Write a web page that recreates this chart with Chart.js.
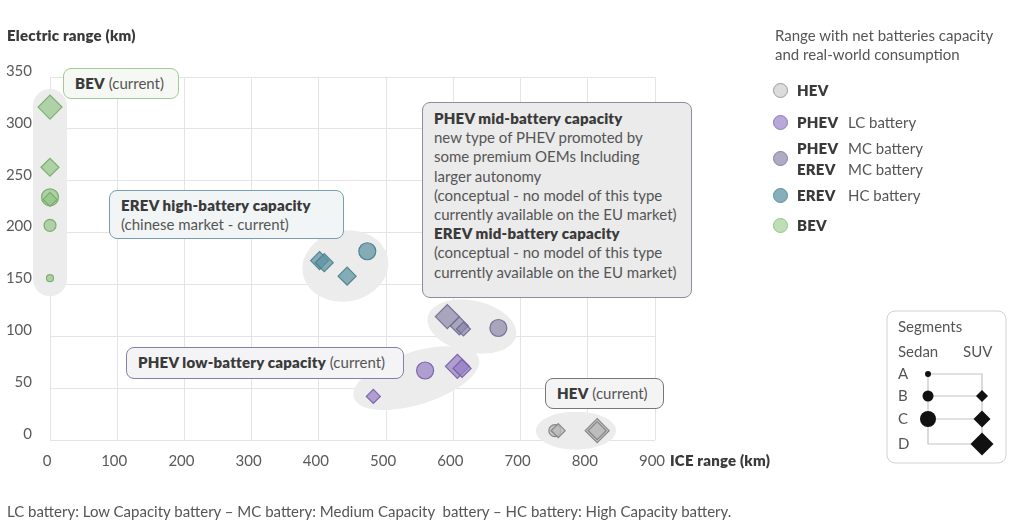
<!DOCTYPE html>
<html>
<head>
<meta charset="utf-8">
<script src="https://cdn.jsdelivr.net/npm/chart.js@4.4.1/dist/chart.umd.min.js"></script>
<style>
    body { margin: 0; background: #ffffff; font-family: Lato, "Open Sans", sans-serif; color: #555; }
    #wrap { position: relative; width: 1024px; height: 530px; overflow: hidden; }
    #chartBox { position: absolute; left: 0; top: 0; width: 1024px; height: 530px; }
    .txt { position: absolute; font-size: 15px; line-height: 19px; white-space: nowrap; }
    .b { font-weight: 800; color: #3a3a3a; letter-spacing: 0.2px; }
    .box { position: absolute; box-sizing: border-box; border: 1.3px solid #888; border-radius: 8px;
           padding: 0 11px; font-size: 15px; line-height: 19.2px; white-space: nowrap; color: #555; }
    .one { display: flex; align-items: center; }
    .dot { position: absolute; width: 15px; height: 15px; border-radius: 50%; box-sizing: border-box; border: 1.5px solid; }
</style>
</head>
<body>
<div id="wrap">
    <div id="chartBox"><canvas id="myChart"></canvas></div>

    <!-- axis titles -->
    <div class="txt b" style="left:7px; top:26px;">Electric range (km)</div>
    <div class="txt b" style="left:670px; top:451px;">ICE range (km)</div>

    <!-- callouts -->
    <div class="box one" style="left:63px; top:68px; width:116px; height:31px; border-color:#a3cb98; background:#f5f8f3;">
        <span class="b">BEV</span>&nbsp;(current)</div>
    <div class="box" style="left:109px; top:190px; width:235px; height:49px; border-color:#7a9db2; background:#f2f5f6; padding-top:5px;">
        <span class="b">EREV high-battery capacity</span><br>(chinese market - current)</div>
    <div class="box" style="left:422px; top:102px; width:270px; height:196px; border-color:#8d8b9c; background:#ebebeb; padding-top:6px;">
        <span class="b">PHEV mid-battery capacity</span><br>new type of PHEV promoted by<br>some premium OEMs Including<br>larger autonomy<br>(conceptual - no model of this type<br>currently available on the EU market)<br><span class="b">EREV mid-battery capacity</span><br>(conceptual - no model of this type<br>currently available on the EU market)</div>
    <div class="box one" style="left:126px; top:347px; width:278px; height:32px; border-color:#877ea8; background:#f4f4f6;">
        <span class="b">PHEV low-battery capacity</span>&nbsp;(current)</div>
    <div class="box one" style="left:545px; top:378px; width:119px; height:31px; border-color:#777; background:#f4f4f4;">
        <span class="b">HEV</span>&nbsp;(current)</div>

    <!-- legend -->
    <div class="txt" style="left:775px; top:26px;">Range with net batteries capacity<br>and real-world consumption</div>
    <div class="dot" style="left:773px; top:83px; background:#dcdcdc; border-color:#9a9a9a;"></div>
    <div class="txt b" style="left:797px; top:81px;">HEV</div>
    <div class="dot" style="left:773px; top:115px; background:#b8a8d9; border-color:#8b79b8;"></div>
    <div class="txt b" style="left:797px; top:113px;">PHEV</div>
    <div class="txt" style="left:848px; top:113px;">LC battery</div>
    <div class="dot" style="left:773px; top:151px; background:#aeabc4; border-color:#85819f;"></div>
    <div class="txt b" style="left:797px; top:138px; line-height:21px;">PHEV<br>EREV</div>
    <div class="txt" style="left:848px; top:138px; line-height:21px;">MC battery<br>MC battery</div>
    <div class="dot" style="left:773px; top:188px; background:#86aebb; border-color:#5f8e9b;"></div>
    <div class="txt b" style="left:797px; top:186px;">EREV</div>
    <div class="txt" style="left:848px; top:186px;">HC battery</div>
    <div class="dot" style="left:773px; top:218px; background:#bfdeb6; border-color:#93c289;"></div>
    <div class="txt b" style="left:797px; top:216px;">BEV</div>

    <!-- segments key -->
    <svg width="122" height="156" style="position:absolute; left:886px; top:310px;" font-family="Lato, sans-serif" font-size="15" fill="#555">
        <rect x="1" y="1" width="119" height="152" rx="8" fill="#fff" stroke="#d2d2d2"/>
        <text x="12" y="22">Segments</text>
        <text x="12" y="47">Sedan</text>
        <text x="77" y="47">SUV</text>
        <text x="12" y="69">A</text>
        <text x="12" y="91">B</text>
        <text x="12" y="114">C</text>
        <text x="12" y="139">D</text>
        <g stroke="#c4c4c4" stroke-width="1.2" fill="none">
            <polyline points="42,64 96,64 96,134"/>
            <polyline points="42,64 42,134 96,134"/>
            <line x1="42" y1="86" x2="96" y2="86"/>
            <line x1="42" y1="109" x2="96" y2="109"/>
        </g>
        <g fill="#111">
            <circle cx="42" cy="64" r="3"/>
            <circle cx="42" cy="86" r="5.5"/>
            <circle cx="42" cy="109" r="8"/>
            <polygon points="96,80 102,86 96,92 90,86"/>
            <polygon points="96,100.5 104.5,109 96,117.5 87.5,109"/>
            <polygon points="96,122.5 107.5,134 96,145.5 84.5,134"/>
        </g>
    </svg>

    <div class="txt" style="left:7px; top:502px;">LC battery: Low Capacity battery – MC battery: Medium Capacity&nbsp; battery – HC battery: High Capacity battery.</div>
</div>

<script>
// values: ICE range (x), electric range (y), segment of each marker
const hevX = [751, 756, 814, 814];
const hevY = [9, 9, 9, 9];
const hevSeg = ['sedan-B', 'suv-B', 'suv-D', 'suv-C'];

const phevLcX = [481, 558, 606, 613];
const phevLcY = [42, 67, 71, 69];
const phevLcSeg = ['suv-B', 'sedan-C', 'suv-D', 'suv-C'];

const mcX = [591, 609, 615, 667];
const mcY = [119, 110, 107, 108];
const mcSeg = ['suv-D', 'suv-C', 'suv-B', 'sedan-C'];

const erevHcX = [401, 408, 442, 472];
const erevHcY = [173, 171, 158, 182];
const erevHcSeg = ['suv-C', 'suv-C', 'suv-C', 'sedan-C'];

const bevX = [0, 0, 0, 0, 0, 0];
const bevY = [321, 263, 234, 232, 207, 156];
const bevSeg = ['suv-D', 'suv-C', 'sedan-C', 'suv-B', 'sedan-B', 'sedan-A'];

const xTicks = [0, 100, 200, 300, 400, 500, 600, 700, 800, 900];
const yTicks = [0, 50, 100, 150, 200, 250, 300, 350];

// marker size per segment (sedan = circle, SUV = diamond)
const segRadius = { 'sedan-A': 3.5, 'sedan-B': 6, 'sedan-C': 8.5, 'suv-B': 7, 'suv-C': 9, 'suv-D': 12 };

function makeSet(label, xs, ys, segs, fill, border, shade) {
    return {
        label: label,
        data: xs.map((x, i) => ({ x: x, y: ys[i] })),
        pointStyle: segs.map(s => s.startsWith('sedan') ? 'circle' : 'rectRot'),
        pointRadius: segs.map(s => segRadius[s]),
        pointHoverRadius: segs.map(s => segRadius[s]),
        backgroundColor: fill,
        borderColor: border,
        pointBorderWidth: 1.2,
        clip: false,     // markers on x = 0 must not be cut in half
        shade: shade     // shape of the grey patch behind the group
    };
}

// grey patch behind each group, worked out from the group's own points
const groupShade = {
    id: 'groupShade',
    beforeDatasetsDraw(chart) {
        const ctx = chart.ctx;
        chart.data.datasets.forEach((ds, i) => {
            const pts = chart.getDatasetMeta(i).data.map(p => ({ x: p.x, y: p.y }));
            let a = pts[0], b = pts[1], best = -1;
            pts.forEach(p => pts.forEach(q => {
                const d = (p.x - q.x) ** 2 + (p.y - q.y) ** 2;
                if (d > best) { best = d; a = p; b = q; }
            }));
            const ang = Math.atan2(b.y - a.y, b.x - a.x);
            const c = Math.cos(ang), s = Math.sin(ang);
            let minU = Infinity, maxU = -Infinity, minV = Infinity, maxV = -Infinity;
            pts.forEach(p => {
                const u = p.x * c + p.y * s;
                const v = -p.x * s + p.y * c;
                minU = Math.min(minU, u); maxU = Math.max(maxU, u);
                minV = Math.min(minV, v); maxV = Math.max(maxV, v);
            });
            const cu = (minU + maxU) / 2, cv = (minV + maxV) / 2;
            const cx = cu * c - cv * s, cy = cu * s + cv * c;
            ctx.save();
            ctx.fillStyle = '#ececec';
            ctx.beginPath();
            if (ds.shade === 'pill') {
                const rx = (maxU - minU) / 2 + 18;
                ctx.translate(cx, cy);
                ctx.rotate(ang);
                ctx.roundRect(-rx, -17, rx * 2, 34, 17);
            } else {
                const rx = (maxU - minU) / 2 + 19;
                const ry = (maxV - minV) / 2 * 1.6 + 19;
                ctx.ellipse(cx, cy, rx, ry, ang, 0, Math.PI * 2);
            }
            ctx.fill();
            ctx.restore();
        });
    }
};

const myChart = new Chart(document.getElementById('myChart'), {
    type: 'scatter',
    data: {
        datasets: [
            makeSet('HEV', hevX, hevY, hevSeg, 'rgba(185, 185, 185, 0.75)', 'rgba(125, 125, 125, 0.9)', 'ellipse'),
            makeSet('PHEV LC battery', phevLcX, phevLcY, phevLcSeg, 'rgba(150, 125, 195, 0.7)', 'rgba(115, 92, 165, 0.9)', 'ellipse'),
            makeSet('PHEV / EREV MC battery', mcX, mcY, mcSeg, 'rgba(140, 136, 170, 0.7)', 'rgba(110, 105, 145, 0.9)', 'ellipse'),
            makeSet('EREV HC battery', erevHcX, erevHcY, erevHcSeg, 'rgba(90, 145, 160, 0.7)', 'rgba(70, 125, 140, 0.9)', 'ellipse'),
            makeSet('BEV', bevX, bevY, bevSeg, 'rgba(145, 195, 132, 0.65)', 'rgba(115, 170, 102, 0.9)', 'pill')
        ]
    },
    options: {
        responsive: true,
        maintainAspectRatio: false,
        animation: false,
        layout: { padding: { top: 77, right: 369, bottom: 0, left: 0 } },
        scales: {
            x: {
                type: 'linear',
                min: 0,
                max: 900,
                afterFit: (scale) => { scale.height = 90; },
                afterBuildTicks: (scale) => { scale.ticks = xTicks.map(v => ({ value: v })); },
                ticks: { padding: 12, labelOffset: -3, color: '#5a5a5a', font: { family: 'Lato', size: 15 } },
                grid: { color: '#e4e4e4', drawTicks: false },
                border: { display: false }
            },
            y: {
                type: 'linear',
                min: 0,
                max: 350,
                afterFit: (scale) => { scale.width = 50; },
                afterBuildTicks: (scale) => { scale.ticks = yTicks.map(v => ({ value: v })); },
                ticks: { padding: 18, labelOffset: -6, color: '#5a5a5a', font: { family: 'Lato', size: 15 } },
                grid: { color: '#e4e4e4', drawTicks: false },
                border: { display: false }
            }
        },
        plugins: {
            legend: { display: false },
            tooltip: { enabled: false }
        }
    },
    plugins: [groupShade]
});
</script>
</body>
</html>
